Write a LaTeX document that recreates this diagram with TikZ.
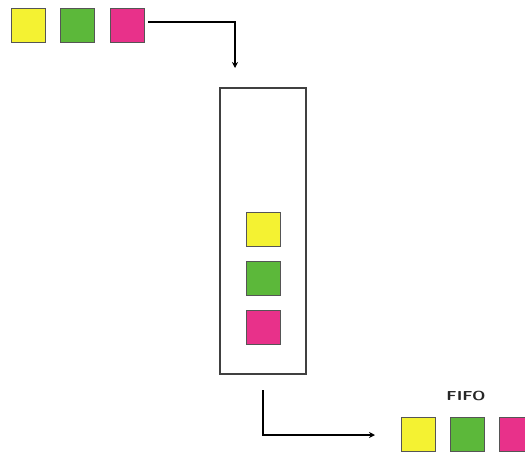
\documentclass[tikz,border=0pt]{standalone}
\usetikzlibrary{arrows.meta}
\definecolor{cyel}{HTML}{F4F232}
\definecolor{cgrn}{HTML}{5CB83A}
\definecolor{cpnk}{HTML}{E8318A}
\definecolor{cedge}{HTML}{555555}
\begin{document}
\begin{tikzpicture}[x=1pt,y=-1pt,
  sq/.style={draw=cedge,line width=1pt,minimum size=34pt,inner sep=0pt,outer sep=0pt},
  link/.style={draw=black,line width=1.4pt,-{Stealth[length=6pt,width=6pt]}},
  box/.style={draw=black!75,line width=1.2pt,inner sep=0pt},
  lbl/.style={font=\sffamily\bfseries\fontsize{13}{13}\selectfont,text=black!85,xscale=1.3,inner sep=0pt}]
\useasboundingbox (0,0) rectangle (525,453);
% top squares
\node[sq,fill=cyel] (y1) at (28,25) {};
\node[sq,fill=cgrn] (g1) at (77,25) {};
\node[sq,fill=cpnk] (p1) at (127,25) {};
% container
\node[box,minimum width=86pt,minimum height=286pt] (cont) at (263,231) {};
\node[sq,fill=cyel] (y2) at (263,229) {};
\node[sq,fill=cgrn] (g2) at (263,278) {};
\node[sq,fill=cpnk] (p2) at (263,327) {};
% bottom squares
\node[sq,fill=cyel] (y3) at (418,434) {};
\node[sq,fill=cgrn] (g3) at (467,434) {};
\node[sq,fill=cpnk] (p3) at (516,434) {};
\node[lbl] (fifo) at (466,396) {FIFO};
% connectors
\coordinate (a1) at (148,22);
\coordinate (a2) at (235,22);
\coordinate (a3) at (235,68);
\draw[link] (a1) -- (a2) -- (a3);
\coordinate (b1) at (263,390);
\coordinate (b2) at (263,435);
\coordinate (b3) at (375,435);
\draw[link] (b1) -- (b2) -- (b3);
\end{tikzpicture}
\end{document}
